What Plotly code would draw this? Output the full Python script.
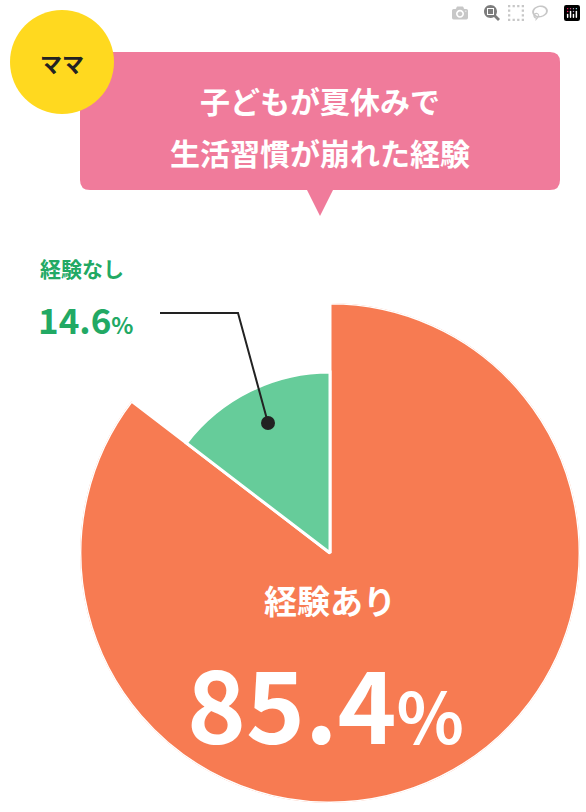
import plotly.graph_objects as go

W, H = 586, 812

labels = ["経験あり", "経験なし"]
values = [85.4, 14.6]
radii = [250, 181]
colors = ["#f77b52", "#66cc9a"]

# angular widths / centres from the percentages
widths = [v * 3.6 for v in values]
centers = []
start = 0
for w in widths:
    centers.append(start + w / 2)
    start += w


def px(x):
    return x / W


def py(y):
    return 1 - y / H


fig = go.Figure()
fig.add_trace(go.Barpolar(
    r=radii, theta=centers, width=widths,
    marker=dict(color=colors, line=dict(color="white", width=3)),
    hoverinfo="skip", showlegend=False,
))

FONT = "Noto Sans CJK JP"
shapes = [
    # pink speech box
    dict(type="path", xref="paper", yref="paper",
         path=(f"M {px(90)},{py(52)} L {px(550)},{py(52)} Q {px(560)},{py(52)} {px(560)},{py(62)} "
               f"L {px(560)},{py(180)} Q {px(560)},{py(190)} {px(550)},{py(190)} "
               f"L {px(333)},{py(190)} L {px(320)},{py(216)} L {px(307)},{py(190)} "
               f"L {px(90)},{py(190)} Q {px(80)},{py(190)} {px(80)},{py(180)} "
               f"L {px(80)},{py(62)} Q {px(80)},{py(52)} {px(90)},{py(52)} Z"),
         fillcolor="#f07b9b", line=dict(width=0)),
    # yellow circle
    dict(type="circle", xref="paper", yref="paper",
         x0=px(10), x1=px(114), y0=py(114), y1=py(10),
         fillcolor="#ffd91f", line=dict(width=0)),
    # leader line
    dict(type="path", xref="paper", yref="paper",
         path=f"M {px(160)},{py(313)} L {px(238)},{py(313)} L {px(268)},{py(423)}",
         line=dict(color="#222", width=2)),
    dict(type="circle", xref="paper", yref="paper",
         x0=px(261), x1=px(275), y0=py(430), y1=py(416),
         fillcolor="#222", line=dict(width=0)),
]


def ann(x, y, text, size, color, anchor="center"):
    return dict(x=px(x), y=py(y), xref="paper", yref="paper", text=text,
                showarrow=False, xanchor=anchor, yanchor="middle",
                font=dict(family=FONT, size=size, color=color))


annotations = [
    ann(62, 62, "<b>ママ</b>", 22, "#222"),
    ann(320, 100, "<b>子どもが夏休みで</b>", 30, "white"),
    ann(320, 152, "<b>生活習慣が崩れた経験</b>", 30, "white"),
    ann(38, 268, "<b>経験なし</b>", 21, "#22a964", "left"),
    ann(36, 318, "<b>14.6<span style='font-size:23px'>%</span></b>", 35, "#22a964", "left"),
    ann(330, 600, "<b>経験あり</b>", 33, "white"),
    ann(325, 700, "<b>85.4<span style='font-size:70px'>%</span></b>", 100, "white"),
]

fig.update_layout(
    width=W, height=H,
    margin=dict(l=0, r=0, t=0, b=0),
    paper_bgcolor="white",
    shapes=shapes, annotations=annotations,
    polar=dict(
        domain=dict(x=[px(80), px(580)], y=[py(803), py(303)]),
        bgcolor="rgba(0,0,0,0)",
        bargap=0,
        angularaxis=dict(rotation=90, direction="clockwise", visible=False),
        radialaxis=dict(range=[0, 250], visible=False),
    ),
)

fig.write_html("out.html", post_script="document.body.style.margin='0';")
